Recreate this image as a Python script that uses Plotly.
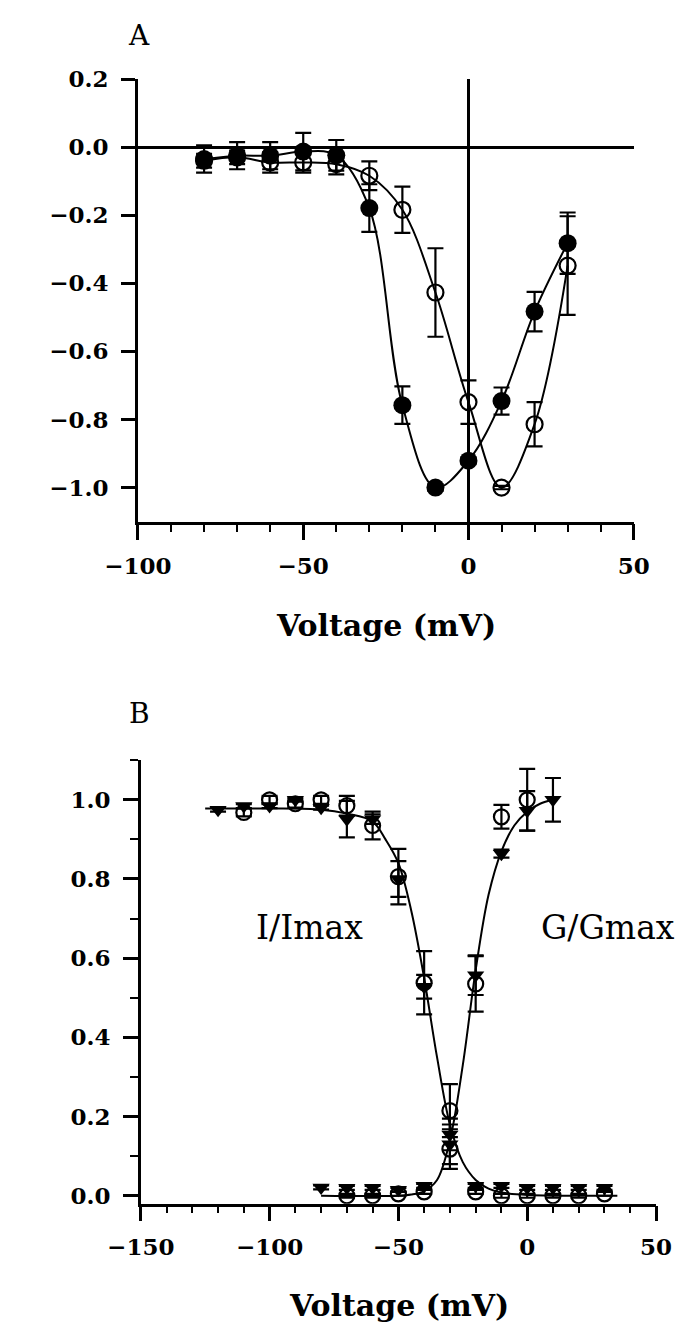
import plotly.graph_objects as go

W, H = 698, 1325

# ---------------- Panel A data ----------------
vA = [-80, -70, -60, -50, -40, -30, -20, -10, 0, 10, 20, 30]
a_filled = [-0.035, -0.025, -0.025, -0.013, -0.024, -0.179, -0.758, -1.0, -0.921, -0.746, -0.483, -0.282]
a_filled_err = [0.04, 0.04, 0.04, 0.055, 0.045, 0.07, 0.055, 0.01, 0.01, 0.04, 0.058, 0.09]
a_open = [-0.04, -0.03, -0.045, -0.045, -0.05, -0.084, -0.184, -0.427, -0.749, -1.0, -0.814, -0.348]
a_open_err = [0.02, 0.02, 0.03, 0.03, 0.03, 0.042, 0.068, 0.13, 0.064, 0.005, 0.065, 0.145]

# ---------------- Panel B data ----------------
# inactivation (I/Imax)
vI_c = [-110, -100, -90, -80, -70, -60, -50, -40, -30, -20, -10, 0, 10, 20, 30]
I_c = [0.968, 1.0, 0.99, 1.0, 0.985, 0.935, 0.806, 0.538, 0.215, 0.01, 0.0, 0.0, 0.0, 0.0, 0.005]
I_c_err = [0.01, 0.01, 0.01, 0.01, 0.025, 0.035, 0.07, 0.08, 0.067, 0.005, 0.005, 0.005, 0.005, 0.005, 0.005]
vI_t = [-120, -110, -100, -90, -80, -70, -60, -50, -40, -30, -20, -10, 0, 10, 20, 30]
I_t = [0.975, 0.984, 0.984, 1.0, 0.98, 0.951, 0.951, 0.80, 0.528, 0.155, 0.025, 0.025, 0.02, 0.02, 0.02, 0.02]
I_t_err = [0.005, 0.005, 0.005, 0.005, 0.005, 0.046, 0.012, 0.045, 0.03, 0.04, 0.005, 0.005, 0.005, 0.005, 0.005, 0.005]
# activation (G/Gmax)
vG_c = [-70, -60, -50, -40, -30, -20, -10, 0]
G_c = [0.0, 0.0, 0.005, 0.01, 0.118, 0.535, 0.957, 1.0]
G_c_err = [0.005, 0.005, 0.005, 0.005, 0.05, 0.07, 0.03, 0.078]
vG_t = [-80, -70, -60, -50, -40, -30, -20, -10, 0, 10]
G_t = [0.021, 0.02, 0.02, 0.015, 0.025, 0.13, 0.557, 0.864, 0.972, 1.0]
G_t_err = [0.005, 0.005, 0.005, 0.005, 0.005, 0.05, 0.05, 0.01, 0.05, 0.055]

# fitted curves
inact_fit_v = [-125, -100, -80, -70, -60, -55, -50, -45, -40, -35, -30, -25, -20, -15, -10, 0, 35]
inact_fit_y = [0.978, 0.978, 0.975, 0.965, 0.945, 0.90, 0.84, 0.72, 0.55, 0.35, 0.18, 0.085, 0.04, 0.018, 0.008, 0.002, 0.0]
act_fit_v = [-80, -50, -45, -40, -35, -30, -25, -20, -15, -10, -5, 0, 5, 10]
act_fit_y = [0.0, 0.0, 0.003, 0.012, 0.04, 0.14, 0.33, 0.57, 0.76, 0.87, 0.935, 0.97, 0.99, 1.0]

# ---------------- layout geometry (pixels) ----------------
def fx(p):
    return p / W

def fy(p):
    return 1 - p / H

xA_dom = [fx(112), fx(646)]
yA_dom = [fy(515), fy(66)]
xB_dom = [fx(115), fx(670)]
yB_dom = [fy(1207), fy(757)]

tickfont = dict(family="DejaVu Serif", size=23, color="black", weight="bold")
BL = "black"

fig = go.Figure()

# ---- Panel A ----
fig.add_trace(go.Scatter(x=vA, y=a_filled, mode="lines", line=dict(color=BL, width=2, shape="spline", smoothing=1),
                         xaxis="x", yaxis="y", showlegend=False, hoverinfo="skip"))
fig.add_trace(go.Scatter(x=vA, y=a_open, mode="lines", line=dict(color=BL, width=2, shape="spline", smoothing=1),
                         xaxis="x", yaxis="y", showlegend=False, hoverinfo="skip"))
fig.add_trace(go.Scatter(x=vA, y=a_open, mode="markers",
                         marker=dict(symbol="circle-open", size=16, color=BL, line=dict(width=2.2, color=BL)),
                         error_y=dict(type="data", array=a_open_err, thickness=2.2, width=8, color=BL),
                         xaxis="x", yaxis="y", showlegend=False))
fig.add_trace(go.Scatter(x=vA, y=a_filled, mode="markers",
                         marker=dict(symbol="circle", size=18, color=BL),
                         error_y=dict(type="data", array=a_filled_err, thickness=2.2, width=8, color=BL),
                         xaxis="x", yaxis="y", showlegend=False))

# ---- Panel B ----
fig.add_trace(go.Scatter(x=inact_fit_v, y=inact_fit_y, mode="lines",
                         line=dict(color=BL, width=2, shape="spline", smoothing=1),
                         xaxis="x2", yaxis="y2", showlegend=False, hoverinfo="skip"))
fig.add_trace(go.Scatter(x=act_fit_v, y=act_fit_y, mode="lines",
                         line=dict(color=BL, width=2, shape="spline", smoothing=1),
                         xaxis="x2", yaxis="y2", showlegend=False, hoverinfo="skip"))
for xs, ys, es in [(vI_c, I_c, I_c_err), (vG_c, G_c, G_c_err)]:
    fig.add_trace(go.Scatter(x=xs, y=ys, mode="markers",
                             marker=dict(symbol="circle-open", size=15, color=BL, line=dict(width=2.2, color=BL)),
                             error_y=dict(type="data", array=es, thickness=2.2, width=8, color=BL),
                             xaxis="x2", yaxis="y2", showlegend=False))
for xs, ys, es in [(vI_t, I_t, I_t_err), (vG_t, G_t, G_t_err)]:
    fig.add_trace(go.Scatter(x=xs, y=ys, mode="markers",
                             marker=dict(symbol="triangle-down", size=15, color=BL),
                             error_y=dict(type="data", array=es, thickness=2.2, width=8, color=BL),
                             xaxis="x2", yaxis="y2", showlegend=False))

common = dict(showgrid=False, linecolor=BL, linewidth=2.5, tickcolor=BL, tickwidth=2.5,
              tickfont=tickfont, ticks="outside", mirror=False)

fig.update_layout(
    width=W, height=H, autosize=False,
    margin=dict(l=0, r=0, t=0, b=0),
    paper_bgcolor="white", plot_bgcolor="white",
    xaxis=dict(domain=xA_dom, anchor="y", range=[-100, 50], dtick=50, tick0=0, ticklen=16,
               showline=True, zeroline=True, zerolinecolor=BL, zerolinewidth=2.5,
               minor=dict(dtick=10, ticklen=8, tickwidth=2, tickcolor=BL, ticks="outside"),
               ticklabelstandoff=6, **common),
    yaxis=dict(domain=yA_dom, anchor="x", range=[-1.1, 0.2], dtick=0.2, tick0=0, ticklen=14,
               tickformat=".1f", showline=True, zeroline=True, zerolinecolor=BL, zerolinewidth=2.5,
               ticklabelstandoff=8, **common),
    xaxis3=dict(domain=xA_dom, overlaying="x", anchor="free", position=fy(135), side="top",
                range=[-100, 50], dtick=50, tick0=0, ticks="outside", ticklen=16, tickwidth=2.5, tickcolor=BL,
                minor=dict(dtick=10, ticklen=8, tickwidth=2, tickcolor=BL, ticks="outside"),
                showticklabels=False, showline=False, showgrid=False, zeroline=False),
    xaxis2=dict(domain=xB_dom, anchor="y2", range=[-150, 50], dtick=50, tick0=0, ticklen=15,
                showline=True, zeroline=False,
                minor=dict(dtick=10, ticklen=7, tickwidth=2, tickcolor=BL, ticks="outside"),
                ticklabelstandoff=6, **common),
    yaxis2=dict(domain=yB_dom, anchor="x2", range=[-0.02, 1.1001], dtick=0.2, tick0=0, ticklen=15,
                tickformat=".1f", showline=True, zeroline=False,
                minor=dict(dtick=0.1, ticklen=8, tickwidth=2, tickcolor=BL, ticks="outside"),
                ticklabelstandoff=8, **common),
)

titlefont = dict(family="DejaVu Serif", size=30, color="black", weight="bold")
labfont = dict(family="DejaVu Serif", size=28, color="black")
curvefont = dict(family="DejaVu Serif", size=33, color="black")

ann = [
    dict(text="A", x=fx(113), y=fy(22), font=labfont),
    dict(text="B", x=fx(114), y=fy(710), font=labfont),
    dict(text="Voltage (mV)", x=fx(379), y=fy(620), font=titlefont),
    dict(text="Voltage (mV)", x=fx(393), y=fy(1310), font=titlefont),
    dict(text="I/Imax", x=fx(297), y=fy(927), font=curvefont),
    dict(text="G/Gmax", x=fx(618), y=fy(927), font=curvefont),
]
for a in ann:
    fig.add_annotation(xref="paper", yref="paper", showarrow=False, xanchor="center", yanchor="middle", **a)

fig.write_html("out.html")
